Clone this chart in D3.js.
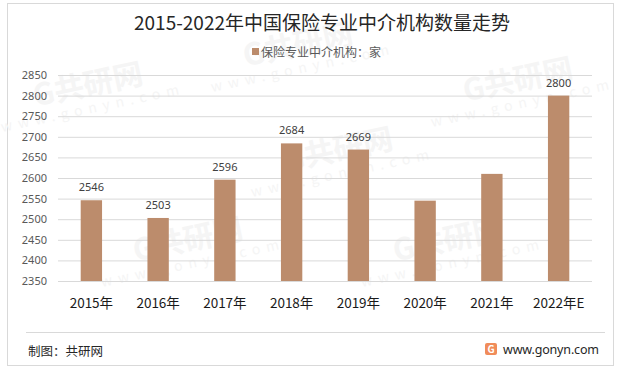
<!DOCTYPE html>
<html>
<head>
<meta charset="utf-8">
<script src="https://cdn.jsdelivr.net/npm/d3@7"></script>
<style>
  body { margin: 0; background: #fff; }
  svg text { font-family: "Noto Sans CJK SC", "Noto Sans", sans-serif; }
</style>
</head>
<body>
<div id="chart"></div>
<script>
var years = ["2015年", "2016年", "2017年", "2018年", "2019年", "2020年", "2021年", "2022年E"];
var counts = [2546, 2503, 2596, 2684, 2669, 2545, 2610, 2800];
// only these bars carry a value label in the original
var showLabel = [true, true, true, true, true, false, false, true];
var yTicks = [2350, 2400, 2450, 2500, 2550, 2600, 2650, 2700, 2750, 2800, 2850];

var W = 620, H = 374;
var svg = d3.select("#chart").append("svg")
  .attr("width", W)
  .attr("height", H);

svg.append("rect")
  .attr("x", 7.5).attr("y", 3.5)
  .attr("width", 606).attr("height", 362)
  .attr("fill", "#fff")
  .attr("stroke", "#d9d9d9");

// faint watermarks
var marks = [[90, 95], [300, 55], [190, 250], [340, 160], [450, 250], [520, 90]];
marks.forEach(function (m) {
  var g = svg.append("g")
    .attr("transform", "translate(" + m[0] + "," + m[1] + ") rotate(-12)")
    .attr("fill", "#f5f5f5");
  g.append("text").attr("font-size", 30).attr("font-weight", "bold")
    .attr("text-anchor", "middle").text("G共研网");
  g.append("text").attr("y", 18).attr("font-size", 14)
    .attr("text-anchor", "middle").attr("letter-spacing", 6).text("www.gonyn.com");
});

svg.append("text")
  .attr("x", 322).attr("y", 30)
  .attr("text-anchor", "middle")
  .attr("font-size", 19)
  .attr("fill", "#262626")
  .text("2015-2022年中国保险专业中介机构数量走势");

// legend
svg.append("rect")
  .attr("x", 252).attr("y", 48)
  .attr("width", 7).attr("height", 7)
  .attr("fill", "#bc8c6c");
svg.append("text")
  .attr("x", 261).attr("y", 56.5)
  .attr("font-size", 12)
  .attr("fill", "#595959")
  .text("保险专业中介机构：家");

var margin = { left: 58, right: 28, top: 75, bottom: 93 };
var width = W - margin.left - margin.right;
var height = H - margin.top - margin.bottom;

var g = svg.append("g")
  .attr("transform", "translate(" + margin.left + "," + margin.top + ")");

var x = d3.scaleBand()
  .domain(years)
  .range([0, width])
  .paddingInner(0.68)
  .paddingOuter(0.34);

var y = d3.scaleLinear()
  .domain([2350, 2850])
  .range([height, 0]);

// gridlines
g.append("g")
  .call(d3.axisLeft(y).tickValues(yTicks).tickSize(-width).tickFormat(""))
  .call(function (a) {
    a.select(".domain").remove();
    a.selectAll("line").attr("stroke", "#d9d9d9");
  });

// y labels
g.append("g")
  .call(d3.axisLeft(y).tickValues(yTicks).tickSize(0).tickPadding(11).tickFormat(d3.format("d")))
  .call(function (a) {
    a.select(".domain").remove();
    a.selectAll("text")
      .attr("font-size", 11)
      .attr("fill", "#595959")
      .style("font-family", "'Noto Sans', sans-serif");
  });

var rows = years.map(function (yr, i) {
  return { year: yr, value: counts[i], label: showLabel[i] };
});

g.selectAll(".bar")
  .data(rows)
  .enter().append("rect")
  .attr("class", "bar")
  .attr("x", function (d) { return x(d.year); })
  .attr("y", function (d) { return y(d.value); })
  .attr("width", x.bandwidth())
  .attr("height", function (d) { return height - y(d.value); })
  .attr("fill", "#bc8c6c");

g.selectAll(".val")
  .data(rows.filter(function (d) { return d.label; }))
  .enter().append("text")
  .attr("class", "val")
  .attr("x", function (d) { return x(d.year) + x.bandwidth() / 2; })
  .attr("y", function (d) { return y(d.value) - 9; })
  .attr("text-anchor", "middle")
  .attr("font-size", 11)
  .attr("fill", "#404040")
  .style("font-family", "'Noto Sans', sans-serif")
  .text(function (d) { return d.value; });

// x labels
g.append("g")
  .attr("transform", "translate(0," + height + ")")
  .call(d3.axisBottom(x).tickSize(0).tickPadding(17))
  .call(function (a) {
    a.select(".domain").remove();
    a.selectAll("text")
      .attr("font-size", 13.5)
      .attr("fill", "#1a1a1a");
  });

// footer
svg.append("line")
  .attr("x1", 26).attr("x2", 605)
  .attr("y1", 332.5).attr("y2", 332.5)
  .attr("stroke", "#d9d9d9");
svg.append("text")
  .attr("x", 28).attr("y", 356)
  .attr("font-size", 12.5)
  .attr("fill", "#262626")
  .text("制图：共研网");

var logo = svg.append("g").attr("transform", "translate(485,343)");
logo.append("rect").attr("width", 12).attr("height", 12).attr("rx", 2).attr("fill", "#f08c5a");
logo.append("text").attr("x", 6).attr("y", 10).attr("text-anchor", "middle")
  .attr("font-size", 10).attr("font-weight", "bold").attr("fill", "#fff").text("G");

svg.append("text")
  .attr("x", 503).attr("y", 354)
  .attr("textLength", 96)
  .attr("font-size", 12.5)
  .attr("fill", "#262626")
  .style("font-family", "'Noto Sans', sans-serif")
  .text("www.gonyn.com");
</script>
</body>
</html>
